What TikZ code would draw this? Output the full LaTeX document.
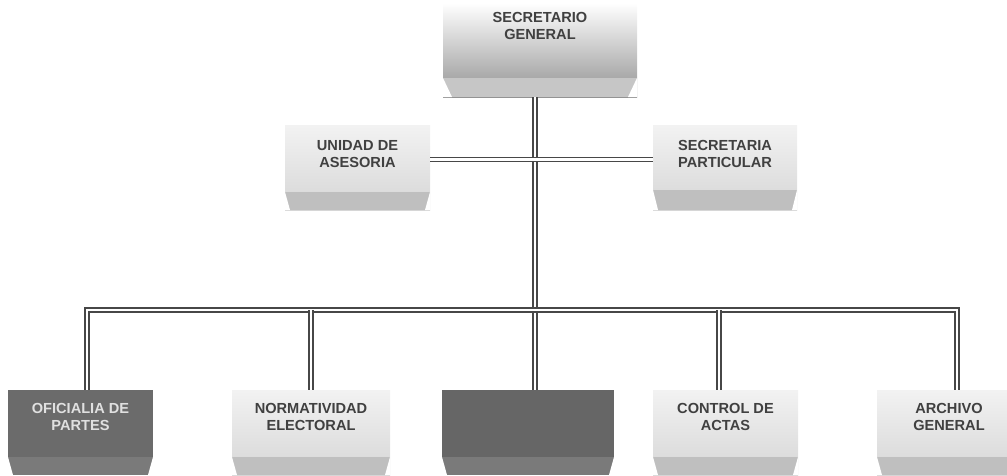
\documentclass[tikz,border=0pt]{standalone}
\usepackage{fontspec}
\setmainfont{Liberation Sans}
\usetikzlibrary{positioning}

\newcommand\bevelcol{gray}
\newcommand\bevelh{18pt}
\newcommand\bevelin{5pt}

\begin{document}
\begin{tikzpicture}[x=1pt, y=-1pt,
			bevelcolor/.code={\renewcommand\bevelcol{#1}},
			bevelheight/.code={\renewcommand\bevelh{#1}},
			bevelinset/.code={\renewcommand\bevelin{#1}},
			orgbox/.style={rectangle, inner sep=0pt, minimum width=145pt, minimum height=85pt,
				path picture={
					\fill[\bevelcol] ([yshift=\bevelh]path picture bounding box.south west) rectangle (path picture bounding box.south east);
					\fill[white] (path picture bounding box.south west) -- ++(\bevelin,0pt) -- ++(-\bevelin,\bevelh) -- cycle;
					\fill[white] (path picture bounding box.south east) -- ++(-\bevelin,0pt) -- ++(\bevelin,\bevelh) -- cycle;
				}},
			lightbox/.style={orgbox, top color=gray!10, bottom color=gray!32, bevelcolor=gray!50},
			darkbox/.style={orgbox, fill=black!58, bevelcolor=black!52},
			lbl/.style={align=center, inner sep=0pt, font=\bfseries\fontsize{14.6}{17}\selectfont, text=black!75},
			link/.style={draw=black!72, line width=1.4pt, double=white, double distance=2.4pt},
			]
			\clip (0,0) rectangle (1007,475);

			%Nodes
			\node[orgbox, minimum width=194pt, minimum height=94pt, top color=white, bottom color=gray!85,
				bevelcolor=gray!45, bevelheight=19pt, bevelinset=9pt] (sg) at (540,50) {};

			\node[lightbox] (ases) at (357.5,167.5) {};
			\node[lightbox, minimum width=144pt, bevelheight=20pt] (part) at (725,167.5) {};

			\node[darkbox] (ofi) at (80.5,432.5) {};
			\node[lightbox, minimum width=158pt] (norm) at (311,432.5) {};
			\node[darkbox, minimum width=172pt, fill=black!60] (blank) at (528,432.5) {};
			\node[lightbox] (ctrl) at (725.5,432.5) {};
			\node[lightbox, minimum width=136pt] (arch) at (945,432.5) {};

			%Labels
			\node[lbl] (sg-t)   [below=9pt of sg.north]   {SECRETARIO\\GENERAL};
			\node[lbl] (ases-t) [below=15pt of ases.north] {UNIDAD DE\\ASESORIA};
			\node[lbl] (part-t) [below=15pt of part.north] {SECRETARIA\\PARTICULAR};
			\node[lbl, text=white!88!black] (ofi-t) [below=13pt of ofi.north] {OFICIALIA DE\\PARTES};
			\node[lbl] (norm-t) [below=13pt of norm.north] {NORMATIVIDAD\\ELECTORAL};
			\node[lbl] (ctrl-t) [below=13pt of ctrl.north] {CONTROL DE\\ACTAS};
			\node[lbl] (arch-t) [below=13pt of arch.north, xshift=4pt] {ARCHIVO\\GENERAL};

			%Connectors
			\coordinate (bus) at (535,310);
			\coordinate (ctrl-in) at ([xshift=-6.5pt]ctrl.north);
			\draw[link] ([xshift=-5pt]sg.south) -- ([xshift=7pt]blank.north);
			\draw[link] ([yshift=8pt]ases.east) -- ([yshift=8pt]part.west);
			\draw[link] ([xshift=6.5pt]ofi.north) |- (bus) -| ([xshift=12pt]arch.north);
			\draw[link] (bus -| norm.north) -- (norm.north);
			\draw[link] (bus -| ctrl-in) -- (ctrl-in);
		\end{tikzpicture}
\end{document}
